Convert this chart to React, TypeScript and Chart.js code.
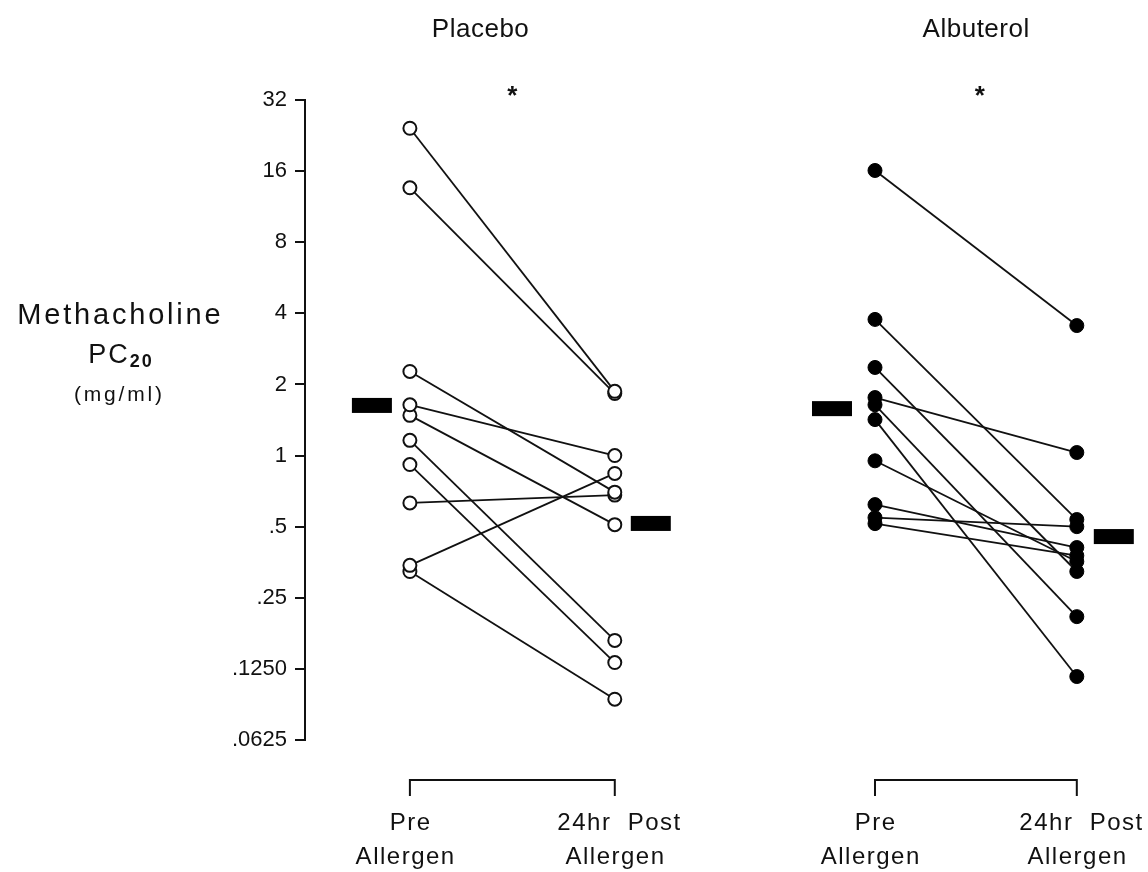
import React, { useEffect, useRef } from "react";
import { Chart, registerables } from "chart.js";

Chart.register(...registerables);

// ---- data ----
const Y_TICKS = [0.0625, 0.125, 0.25, 0.5, 1, 2, 4, 8, 16, 32];
const Y_TICK_LABELS = [".0625", ".1250", ".25", ".5", "1", "2", "4", "8", "16", "32"];
const GROUP_TITLES = ["Placebo", "Albuterol"];
const GROUP_MARKS = ["*", "*"];
const PHASE_LABELS = [["Pre", "Allergen"], ["24hr  Post", "Allergen"]];
const Y_TITLE = ["Methacholine", "PC", "20", "(mg/ml)"];

const PLACEBO_PRE = [24.3, 13.6, 2.27, 1.64, 1.48, 1.16, 0.916, 0.63, 0.343, 0.323];
const PLACEBO_POST = [1.87, 1.83, 0.7, 1.0, 0.51, 0.165, 0.133, 0.68, 0.84, 0.093];
const ALBUTEROL_PRE = [16.1, 3.77, 2.36, 1.76, 1.64, 1.42, 0.95, 0.62, 0.546, 0.515];
const ALBUTEROL_POST = [3.55, 0.536, 0.323, 1.03, 0.208, 0.116, 0.356, 0.408, 0.5, 0.377];
const PLACEBO_MEAN = [1.63, 0.516];
const ALBUTEROL_MEAN = [1.58, 0.454];

// x positions of the four columns (placebo pre/post, albuterol pre/post)
const X_POS = [1, 2, 3.27, 4.255];
const X_MIN = 0.488;
const X_MAX = 4.561;

const INK = "#111";
const FONT = "'Liberation Sans', Arial, sans-serif";

function buildDatasets() {
  const ds: any[] = [];
  PLACEBO_PRE.forEach((v, i) => {
    ds.push({
      data: [
        { x: X_POS[0], y: v },
        { x: X_POS[1], y: PLACEBO_POST[i] },
      ],
      showLine: true,
      borderColor: INK,
      borderWidth: 1.8,
      pointRadius: 6.5,
      pointBackgroundColor: "#fff",
      pointBorderColor: INK,
      pointBorderWidth: 2,
    });
  });
  ALBUTEROL_PRE.forEach((v, i) => {
    ds.push({
      data: [
        { x: X_POS[2], y: v },
        { x: X_POS[3], y: ALBUTEROL_POST[i] },
      ],
      showLine: true,
      borderColor: INK,
      borderWidth: 1.8,
      pointRadius: 7,
      pointBackgroundColor: "#000",
      pointBorderColor: "#000",
      pointBorderWidth: 1,
    });
  });
  return ds;
}

function spaced(ctx: any, text: string, x: number, y: number, spacing: number) {
  // draws text centered at x with extra letter spacing
  if ("letterSpacing" in ctx) {
    ctx.letterSpacing = `${spacing}px`;
    const w = ctx.measureText(text).width;
    const prevAlign = ctx.textAlign;
    ctx.textAlign = "left";
    ctx.fillText(text, x - (w - spacing) / 2, y);
    ctx.textAlign = prevAlign;
    ctx.letterSpacing = "0px";
  } else {
    ctx.fillText(text, x, y);
  }
}

const decorPlugin = {
  id: "decor",
  afterDraw(chart: any) {
    const ctx = chart.ctx;
    const xs = chart.scales.x;
    const ys = chart.scales.y;
    const px = (v: number) => xs.getPixelForValue(v);
    const py = (v: number) => ys.getPixelForValue(v);
    ctx.save();
    ctx.fillStyle = INK;
    ctx.strokeStyle = INK;
    ctx.textAlign = "center";
    ctx.textBaseline = "middle";

    // group titles and asterisks
    const titleShift = [-32, 0];
    for (let g = 0; g < 2; g++) {
      const cx = (px(X_POS[g * 2]) + px(X_POS[g * 2 + 1])) / 2;
      ctx.font = `26px ${FONT}`;
      spaced(ctx, GROUP_TITLES[g], cx + titleShift[g], 30, 0.5);
      ctx.font = `bold 26px ${FONT}`;
      ctx.fillText(GROUP_MARKS[g], cx + (g === 1 ? 4 : 0), 97);
    }

    // y title
    ctx.font = `29px ${FONT}`;
    spaced(ctx, Y_TITLE[0], 119, 316, 2.8);
    ctx.font = `27px ${FONT}`;
    const pcW = ctx.measureText(Y_TITLE[1]).width + 2;
    ctx.font = `bold 18px ${FONT}`;
    const subW = ctx.measureText(Y_TITLE[2]).width;
    const startX = 119 - (pcW + subW + 2) / 2;
    ctx.textAlign = "left";
    ctx.font = `27px ${FONT}`;
    if ("letterSpacing" in ctx) ctx.letterSpacing = "2px";
    ctx.fillText(Y_TITLE[1], startX, 356);
    ctx.font = `bold 18px ${FONT}`;
    ctx.fillText(Y_TITLE[2], startX + pcW + 2, 362);
    if ("letterSpacing" in ctx) ctx.letterSpacing = "0px";
    ctx.textAlign = "center";
    ctx.font = `21px ${FONT}`;
    spaced(ctx, Y_TITLE[3], 118, 395, 2.8);

    // mean bars
    const means = [PLACEBO_MEAN, ALBUTEROL_MEAN];
    const offs = [-38, 36, -43, 37];
    for (let g = 0; g < 2; g++) {
      for (let k = 0; k < 2; k++) {
        const idx = g * 2 + k;
        const cx = px(X_POS[idx]) + offs[idx];
        const cy = py(means[g][k]);
        ctx.fillStyle = "#000";
        ctx.fillRect(cx - 20, cy - 7.5, 40, 15);
      }
    }

    // brackets and column labels
    ctx.fillStyle = INK;
    ctx.lineWidth = 2;
    for (let g = 0; g < 2; g++) {
      const x0 = px(X_POS[g * 2]);
      const x1 = px(X_POS[g * 2 + 1]);
      ctx.beginPath();
      ctx.moveTo(x0, 796);
      ctx.lineTo(x0, 780);
      ctx.lineTo(x1, 780);
      ctx.lineTo(x1, 796);
      ctx.stroke();
      ctx.font = `24px ${FONT}`;
      for (let k = 0; k < 2; k++) {
        const cx = px(X_POS[g * 2 + k]);
        spaced(ctx, PHASE_LABELS[k][0], cx + (k === 1 ? 4 : 0), 823, 1.5);
        spaced(ctx, PHASE_LABELS[k][1], cx - (k === 0 ? 5 : 0), 857, 1.5);
      }
    }
    ctx.restore();
  },
};

export default function App() {
  const ref = useRef<HTMLCanvasElement | null>(null);
  useEffect(() => {
    if (!ref.current) return;
    const chart = new Chart(ref.current, {
      type: "scatter",
      data: { datasets: buildDatasets() },
      options: {
        animation: false,
        responsive: true,
        maintainAspectRatio: false,
        layout: { padding: { top: 100, bottom: 132, left: 0, right: 8 } },
        plugins: { legend: { display: false }, tooltip: { enabled: false } },
        scales: {
          x: { type: "linear", display: false, min: X_MIN, max: X_MAX },
          y: {
            type: "logarithmic",
            min: Y_TICKS[0],
            max: Y_TICKS[Y_TICKS.length - 1],
            afterBuildTicks: (scale: any) => {
              scale.ticks = Y_TICKS.map((v) => ({ value: v }));
            },
            afterFit: (scale: any) => {
              scale.width = 305;
            },
            ticks: {
              color: INK,
              font: { family: FONT, size: 22 },
              padding: 8,
              callback: (value: any) => {
                const i = Y_TICKS.indexOf(Number(value));
                return i >= 0 ? Y_TICK_LABELS[i] : "";
              },
            },
            grid: {
              drawOnChartArea: false,
              drawTicks: true,
              tickLength: 10,
              color: INK,
              lineWidth: 2,
            },
            border: { display: true, color: INK, width: 2 },
          },
        },
      },
      plugins: [decorPlugin],
    });
    return () => chart.destroy();
  }, []);
  return (
    <div style={{ position: "absolute", left: 0, top: 0, width: 1148, height: 872, background: "#fff" }}>
      <canvas ref={ref} />
    </div>
  );
}
